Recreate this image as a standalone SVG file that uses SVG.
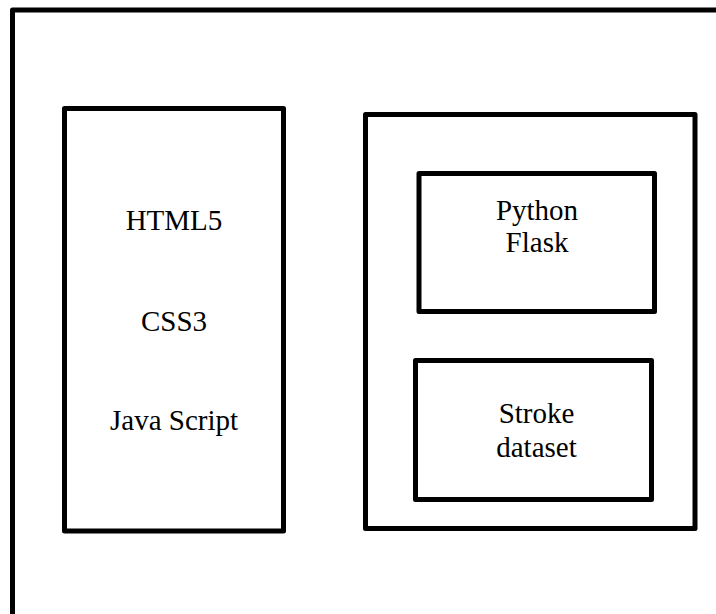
<svg xmlns="http://www.w3.org/2000/svg" width="716" height="614" viewBox="0 0 716 614">
<style>
.box{fill:none;stroke:#000;stroke-width:5;stroke-linejoin:round}
.t{font-family:'Liberation Serif','Times New Roman',serif;font-size:29px;fill:#000;text-anchor:middle}
</style>
<rect width="716" height="614" fill="#fff"/>
<g id="outer"><rect class="box" x="12.5" y="10" width="730" height="640"/></g>
<g id="frontend">
<rect class="box" x="64.5" y="108.5" width="219" height="422.5"/>
<text class="t" x="174" y="230">HTML5</text>
<text class="t" x="174" y="331">CSS3</text>
<text class="t" x="174" y="430">Java Script</text>
</g>
<g id="backend"><rect class="box" x="365.5" y="114.5" width="329.5" height="414"/></g>
<g id="flask">
<rect class="box" x="419" y="173.5" width="235.5" height="138"/>
<text class="t" x="537" y="220">Python</text>
<text class="t" x="537" y="252">Flask</text>
</g>
<g id="dataset">
<rect class="box" x="415.5" y="360.5" width="236" height="139"/>
<text class="t" x="536.5" y="423">Stroke</text>
<text class="t" x="536.5" y="457">dataset</text>
</g>
<g id="connectors"/>
</svg>
